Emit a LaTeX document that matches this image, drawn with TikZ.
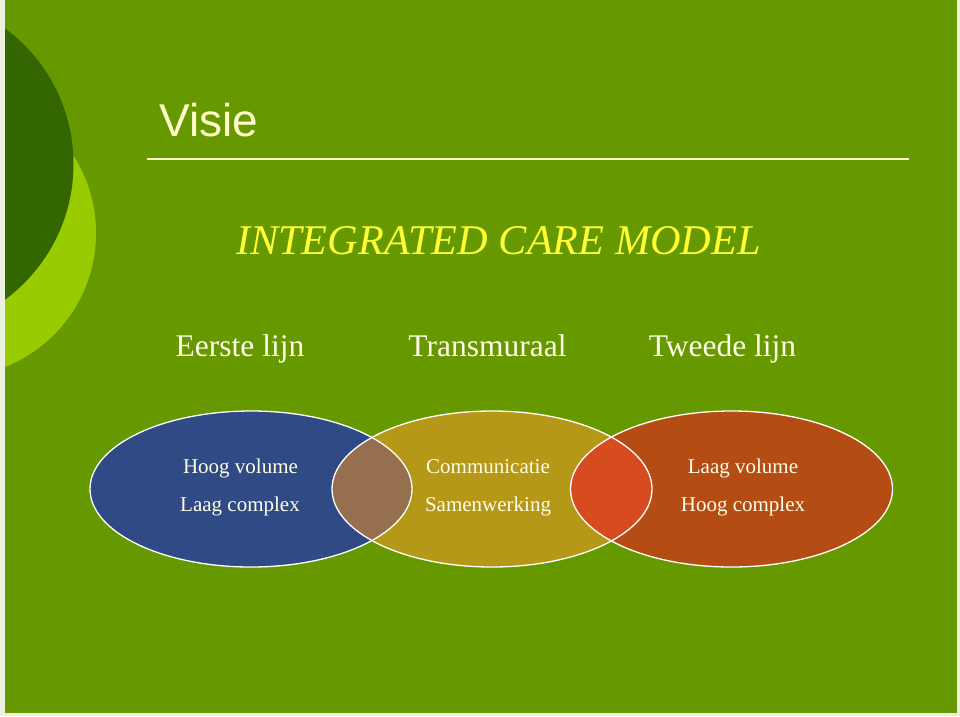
\documentclass[tikz,border=0pt]{standalone}
\usepackage{fontspec}
\setmainfont{Liberation Serif}
\newfontfamily\arialfont{Liberation Sans}
\definecolor{bggreen}{RGB}{102,153,0}
\definecolor{darkgreen}{RGB}{51,102,0}
\definecolor{lightgreen}{RGB}{153,204,0}
\definecolor{edgecol}{RGB}{236,242,222}
\definecolor{cream}{RGB}{255,255,204}
\definecolor{titleyellow}{RGB}{255,255,51}
\definecolor{textcream}{RGB}{255,255,230}
\definecolor{eblue}{RGB}{48,74,134}
\definecolor{eyellow}{RGB}{181,152,24}
\definecolor{ered}{RGB}{181,76,20}
\definecolor{lensbrown}{RGB}{150,112,78}
\definecolor{lensred}{RGB}{214,76,32}
\tikzset{
  headtext/.style={text=textcream, font=\fontsize{31.5}{36}\selectfont, anchor=base, inner sep=0pt},
  elltext/.style={text=textcream, font=\fontsize{21}{25}\selectfont, anchor=base, inner sep=0pt},
  ellline/.style={draw=white, line width=1.3pt}
}
\begin{document}
\begin{tikzpicture}[x=1pt,y=-1pt]
\useasboundingbox (0,0) rectangle (960,716);
\fill[edgecol] (0,0) rectangle (960,716);
\fill[bggreen] (5,0) rectangle (957,713);
\begin{scope}
  \clip (5,0) rectangle (957,713);
  \fill[lightgreen] (-48,233) circle [radius=144];
  \fill[darkgreen] (-95,164) circle [radius=168.5];
\end{scope}
% title
\node[text=cream, font=\arialfont\fontsize{46}{52}\selectfont, anchor=base west, inner sep=0pt] (visie) at (159,136) {Visie};
\coordinate (rulestart) at (147,159);
\coordinate (ruleend) at (909,159);
\draw[cream, line width=2pt] (rulestart) -- (ruleend);
\node[text=titleyellow, font=\itshape\fontsize{42.3}{48}\selectfont, anchor=base, inner sep=0pt] (icm) at (498.5,254) {INTEGRATED CARE MODEL};
\node[headtext] (eerste) at (240,356) {Eerste lijn};
\node[headtext] (trans) at (487.5,356) {Transmuraal};
\node[headtext] (tweede) at (722.5,356) {Tweede lijn};
% ellipses
\fill[eblue] (251,489) ellipse [x radius=161, y radius=78];
\fill[eyellow] (492,489) ellipse [x radius=160, y radius=78];
\fill[ered] (731.5,489) ellipse [x radius=161, y radius=78];
\begin{scope}
  \clip (251,489) ellipse [x radius=161, y radius=78];
  \fill[lensbrown] (492,489) ellipse [x radius=160, y radius=78];
\end{scope}
\begin{scope}
  \clip (731.5,489) ellipse [x radius=161, y radius=78];
  \fill[lensred] (492,489) ellipse [x radius=160, y radius=78];
\end{scope}
\draw[ellline] (251,489) ellipse [x radius=161, y radius=78];
\draw[ellline] (492,489) ellipse [x radius=160, y radius=78];
\draw[ellline] (731.5,489) ellipse [x radius=161, y radius=78];
% ellipse texts
\node[elltext] (hv) at (240.5,473) {Hoog volume};
\node[elltext] (lc) at (240,511) {Laag complex};
\node[elltext] (comm) at (488,473) {Communicatie};
\node[elltext] (samen) at (488,511) {Samenwerking};
\node[elltext] (lv) at (743,473) {Laag volume};
\node[elltext] (hc) at (743,511) {Hoog complex};
\end{tikzpicture}
\end{document}
